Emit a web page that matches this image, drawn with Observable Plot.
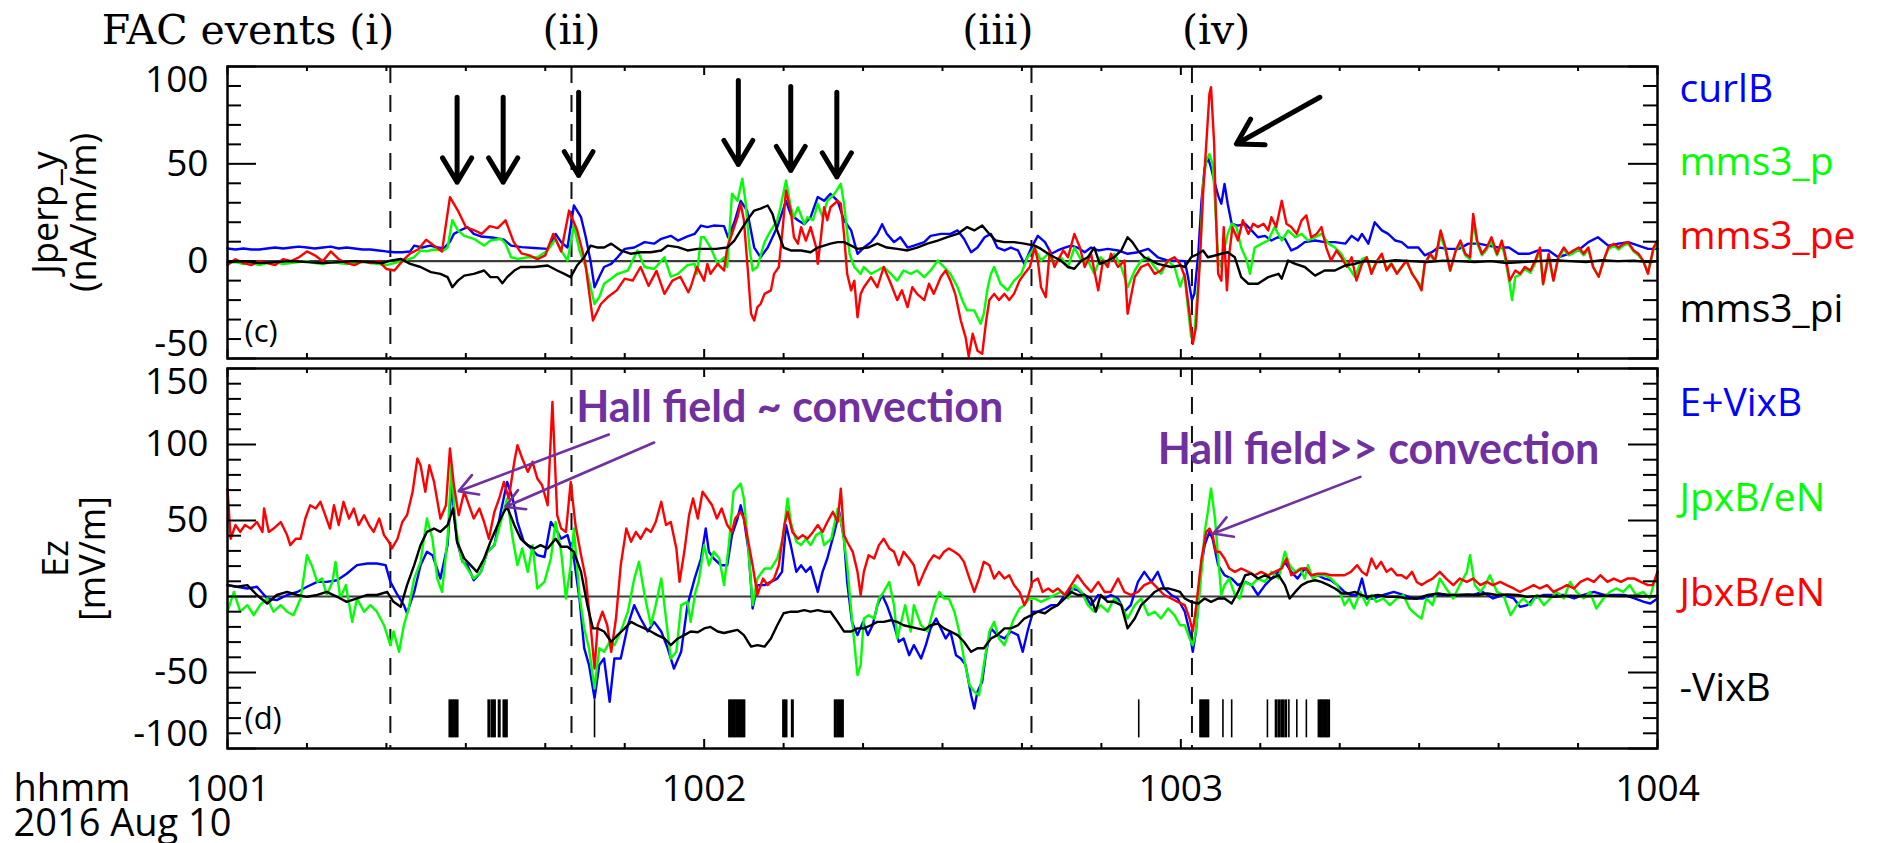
<!DOCTYPE html>
<html><head><meta charset="utf-8">
<script src="https://cdn.jsdelivr.net/npm/d3@7"></script>
<script src="https://cdn.jsdelivr.net/npm/@observablehq/plot@0.6"></script>
<style>
html,body{margin:0;padding:0;background:#fff;overflow:hidden;}
#chart{position:relative;width:1877px;height:843px;background:#fff;}
#chart svg{position:absolute;left:0;max-width:none;}
</style></head><body><div id="chart"></div>
<script>
// time axis: seconds after 10:01:00 UT, 2016 Aug 10
const xTickValues = [0, 60, 120, 180];
const xTickLabels = ["1001", "1002", "1003", "1004"];
const xMinorTicks = [10,20,30,40,50,70,80,90,100,110,130,140,150,160,170];
const eventLines = [20.5, 43.3, 101.2, 121.4];
const eventLabels = ["FAC events (i)", "(ii)", "(iii)", "(iv)"];

// panel (c)
const yTicksTop = [100, 50, 0, -50];
const yMinorTop = [-40,-30,-20,-10,10,20,30,40,60,70,80,90];
const seriesTop = ["curlB", "mms3_p", "mms3_pe", "mms3_pi"];
const colorsTop = ["#0000ff", "#00ff00", "#ff0000", "#000000"];

const curlB = [[0,6.5],[1,6],[2,6.5],[3,6],[4,6],[5,6.5],[6,7],[7,6.5],[8,7],[9,7.5],[10,7],[11,6.5],[12,7],[13,7.5],[14,6.5],[15,7],[16,6.5],[17,6],[18,6],[19,5.5],[20,5],[21,4.6],[22,4.6],[23,5],[23.5,8],[24.5,7],[25.5,8],[26.5,7],[27.2,6.5],[28,10],[28.5,14],[29.4,16],[30.2,17.5],[31,14],[31.9,12.7],[33.6,12],[34.8,11],[35.7,8],[37,7.2],[38.6,6.8],[40.3,6.3],[41.3,14],[42,9.8],[42.8,7],[43.6,28.6],[44.5,22.6],[45.1,12.3],[45.7,0],[46.2,-13.4],[46.8,-8],[47.4,-3],[48.3,-1.4],[49.1,2],[50,6.3],[51.2,7],[52.5,9.8],[53.7,9],[54.6,11.5],[55.8,13],[56.7,10.6],[57.9,12.7],[58.8,14],[59.6,18.3],[60.4,17.5],[61.2,18.3],[62.5,18],[63,12.3],[63.8,20],[64.6,31],[65.4,26],[66.3,7],[67.1,2],[68,7],[69.2,17.5],[70.3,31],[70.9,24],[71.8,21],[72.6,19],[73.4,22.6],[74.3,33],[75.1,31],[75.9,34.6],[76.8,31],[77.6,21],[78.5,15.8],[79.3,3.8],[80.1,7],[81,9.8],[81.8,14],[82.4,19],[83,14],[83.9,9.8],[84.7,12.3],[85.6,7],[86.4,8],[87.7,9.8],[88.5,13],[89.8,14],[91,14],[91.9,15.8],[92.7,11.5],[93.6,4.6],[94.4,7],[95.3,12.3],[96.1,14],[96.9,7],[97.8,5.5],[98.6,7],[99.5,5.5],[100.3,-1.4],[101.2,7],[102,13],[102.9,9.8],[103.7,3.8],[104.5,5.5],[105.4,7],[106.2,8],[107,7],[107.9,4.6],[108.7,7],[109.6,5.5],[110.8,6.3],[112.1,5.5],[113.3,3.8],[114.6,4.6],[115.9,6.3],[117.1,2],[118.4,0.3],[119.7,0.3],[120.5,0],[120.9,-8],[121.4,-20],[121.7,-16.8],[122.2,3.8],[122.6,31],[123,48],[123.4,53.4],[123.8,48],[124.3,39.7],[124.7,33.7],[125.1,29.5],[125.5,39.7],[125.9,29.5],[126.4,19.2],[127.2,18.3],[128.1,19.2],[128.9,15.8],[129.7,12.3],[130.6,13],[131.4,10.6],[132.2,12.3],[133.1,11.5],[133.9,5.5],[134.7,7],[135.6,9.8],[136.9,10.6],[138.1,9.8],[139.4,9.8],[140.7,9],[141.5,13],[142.3,10.6],[142.8,14],[143.6,9],[144.4,20],[145.3,15.8],[146.1,14],[147,10.6],[147.8,9.8],[148.6,7],[149.9,7],[150.7,3],[151.6,4.6],[152.4,7],[153.7,6.3],[155,6.3],[156.2,9],[157.5,9],[158.7,8],[160,7],[161.3,7],[162.5,3.8],[163.8,3.8],[165,5.5],[166.3,5.5],[167.5,2],[168.8,3.8],[170,5.5],[171.3,9.8],[172.5,12.3],[173.8,8],[175.1,9],[176.3,9.8],[177.6,8],[178.8,6.3],[180,6.3]];

const mms3_p = [[0,-1],[1,-0.5],[2,-1.5],[3,-1],[4,-2],[5,-1],[6,-0.5],[7,-1.5],[8,-1],[9,-0.5],[10,0],[11,-1],[12,-1.5],[13,-0.5],[14,-1],[15,-1.5],[16,-1],[17,-0.5],[18,-1],[19,-1.5],[20,-2],[21,-1],[22,0],[23.5,2],[24.3,5.5],[25,5],[26,6],[27.2,5.5],[27.7,7],[28.3,21],[29,15.8],[29.8,13],[31,11.5],[32.3,8],[33.1,10.6],[34.4,11.5],[35,9],[35.7,2],[36.5,1.2],[37.8,2],[39,2],[40.3,5.5],[41.3,11.5],[42,5.5],[42.8,0.3],[43.6,18.3],[44.3,5.5],[45.1,-3],[45.7,-13.4],[46.2,-22],[46.8,-18.5],[47.4,-11.6],[48.3,-9],[49.1,-6.5],[50.4,-4.8],[51.6,5.5],[52.5,-3],[53.7,-4],[55,2],[55.8,-8],[56.7,-6.5],[57.9,-2],[58.8,-1.4],[59.1,-6.5],[59.6,12.3],[60,12.3],[60.8,7],[61.7,-1.4],[62.5,2],[62.9,-3],[63.5,34.6],[64.2,31],[64.8,42.3],[65.2,31],[65.7,7],[66.1,-4.8],[66.7,-3],[67.6,9.8],[68.4,15.8],[69.2,21],[69.6,27.7],[70.3,41.4],[70.9,27.7],[71.3,22.6],[71.8,27.7],[72.6,19.2],[73,22.6],[73.7,21],[74.3,29.5],[74.9,22.6],[75.5,31],[76.4,34.6],[77.2,39.7],[77.6,29.5],[78.3,3.8],[78.9,-3],[79.7,-6.5],[80.1,-3],[81,-6.5],[81.8,-4.8],[82.6,-3],[83.5,-6.5],[84.3,-10],[85.1,-4.8],[86,-6.5],[86.8,-4.8],[87.7,-8.2],[88.5,-4.8],[89.4,0.3],[90.2,-3],[91,-6.5],[91.9,-13.4],[92.5,-20.2],[93.1,-25.3],[94,-25.3],[94.8,-32.2],[95.2,-27],[95.7,-13.4],[96.1,-6.5],[96.5,-3],[97.3,-11.6],[98.2,-15],[99,-10],[99.9,-6.5],[100.7,2],[101.6,7],[102.4,0.3],[103.3,3.8],[104.1,-1.4],[104.9,2],[105.8,-3],[106.6,7],[107.5,0.3],[108.3,0.3],[109.1,-6.5],[109.9,2],[110.8,-1.4],[111.6,3.8],[112.5,-3],[113.3,-13.4],[114.2,-4.8],[115,0.3],[115.9,2],[116.7,-3],[117.5,-6.5],[118.4,0.3],[119.2,-3],[119.9,-13],[120.5,-6.5],[120.7,-16.8],[121.3,-39],[121.7,-37],[122.4,0.3],[122.8,39.7],[123.2,51.7],[123.6,55],[124,50],[124.3,31],[124.7,0.3],[125.1,-3],[125.5,7],[125.9,14],[126.4,19.2],[127,17.5],[127.6,7],[128.3,0.3],[128.7,-6.5],[129.3,7],[130.2,9],[131,10.6],[131.8,17.5],[132.7,10.6],[133.5,15.8],[134.4,12.3],[135.2,14],[136,10.6],[136.9,12.3],[137.7,14],[138.6,9],[139.4,7],[140.2,3.8],[141.1,-3],[141.9,-8],[142.8,1],[143.4,2],[144,-5],[144.7,0],[145.3,3],[145.9,-4],[146.5,-1],[147.2,-6],[147.8,-3],[148.4,0],[149.1,-6],[149.7,-10],[150.3,-13],[150.7,-1],[151.4,3],[152,0],[152.7,13],[153.3,6],[153.9,-5],[154.6,5],[155.2,9],[155.8,3],[156.4,1],[156.8,20],[157.3,9],[157.9,3],[158.5,6],[159.1,10],[159.8,3],[160.4,9],[160.8,2],[161.4,-12],[161.7,-20],[162.1,-8],[162.7,-7],[163.3,-4],[164,-6],[164.6,-1],[165.2,5],[165.6,-12],[166.3,2],[166.9,-10],[167.5,1],[168.2,6],[168.8,3],[169.4,4],[170.1,6],[170.7,3],[171.3,6],[171.9,-3],[172.6,-8],[173.2,0],[173.8,6],[174.5,8],[175.1,6],[175.7,8],[176.3,9],[177,5],[177.6,3],[178.2,0],[178.8,-6],[179.5,6],[180,9]];

const mms3_pe = [[0,-2],[1,1],[2,-1],[3,-2],[4,0],[5,-1],[6,-2],[7,1],[8,0],[9,2],[10,5],[11,3],[12,0],[13,5],[14,1],[15,-1],[16,-2],[17,0],[18,-1],[19,0],[20,-4],[21,-4.8],[22,0],[23,4],[24,6],[25,11],[26,8],[27,5],[28,32.9],[29,26],[30,17.5],[31,16],[32,14],[33,18],[34,17],[35,21],[36,10],[37,4],[38,3],[39,1],[40,3],[41,14],[42,5],[43,26],[44,16],[45,0],[46,-30.5],[47,-22],[48,-18],[49,-15],[50,-9],[51,-10],[52,-3],[53,-12.7],[54,-5],[55,-16.8],[56,-10],[57,-8],[58,-16],[58.3,-13.4],[59.1,-3],[60,-10],[60.4,-1.4],[60.8,-6.5],[61.7,-1.4],[62.5,-4.8],[62.9,7],[63.5,14],[64.2,22.6],[64.6,29.5],[65,21],[65.5,-4.8],[65.9,-27],[66.3,-30.5],[66.7,-23.6],[67.1,-22],[67.6,-16.8],[68.4,-15],[68.8,-6.5],[69.4,-3],[69.9,17.5],[70.3,36.3],[70.9,26],[71.3,12.3],[71.8,9],[72.2,17.5],[72.8,10.6],[73.4,17.5],[74.1,7],[74.3,-1.4],[74.7,12.3],[75.1,27.7],[75.5,21],[75.9,27.7],[76.8,31],[77.2,29.5],[77.6,14],[78,-6.5],[78.5,-15],[78.9,-10],[79.3,-28.8],[79.7,-16.8],[80.1,-13.4],[81,-8.2],[81.8,-13.4],[82.6,-3],[83.5,-11.6],[84.3,-20],[84.9,-15],[85.6,-23.6],[86.2,-13.4],[86.8,-16.8],[87.7,-20],[88.3,-11.6],[88.9,-16.8],[89.8,-8],[90.4,-4.8],[91,-10],[91.6,-16.8],[92.3,-30.5],[92.9,-39],[93.3,-49],[93.8,-37.3],[94.4,-46],[95,-47.6],[95.5,-30.5],[95.9,-20],[96.5,-16.8],[97.1,-20],[97.8,-16.8],[98.4,-20],[99,-16.8],[99.7,-10],[100.3,-6.5],[101,-3],[101.6,7],[102,0.3],[102.4,-13.4],[103,-18.5],[103.5,5.5],[104.1,-3],[104.5,0.3],[105.2,5.5],[105.8,2],[106.6,14],[107.3,7],[107.9,-3],[108.7,3.8],[109.6,-15],[110.2,0.3],[110.8,-3],[111.2,3.8],[112.1,-3],[112.9,0.3],[113.3,-27],[114.2,-8.2],[115,-3],[115.9,-1.4],[116.7,-6.5],[117.5,-4.8],[118.4,0.3],[119.2,2],[119.9,-1.4],[120.5,-8],[121.1,-27],[121.5,-42.5],[121.9,-34],[122.4,0.3],[122.8,34.6],[123.2,60],[123.6,86],[123.8,89.4],[124.2,60],[124.4,26],[124.7,-6.5],[125.1,-10],[125.4,17.5],[125.8,-15],[126.1,3.8],[126.5,17.5],[127.2,10.6],[127.8,21],[128.5,14],[129.1,19.2],[129.7,17.5],[130.4,19.2],[131,15.8],[131.4,22.6],[132,17.5],[132.7,31],[133.3,19.2],[133.9,17.5],[134.6,14],[135.2,21],[135.8,23.5],[136.4,12.3],[137.1,14],[137.7,17.5],[138.3,7],[138.9,0.3],[139.6,5.5],[140.2,2],[140.9,-3],[141.5,2],[142.1,-10],[142.8,-1.4],[143.4,2],[144,-6.5],[144.7,0.3],[145.3,3.8],[145.9,-4.8],[146.5,-1.4],[147.2,-6.5],[147.8,-3],[148.4,0.3],[149.1,-6.5],[149.7,-10],[150.3,-15],[150.7,-1.4],[151.4,3.8],[152,0.3],[152.7,15.8],[153.3,7],[153.9,-4.8],[154.6,5.5],[155.2,10.6],[155.8,3.8],[156.4,2],[156.8,24.3],[157.3,10.6],[157.9,3.8],[158.5,7],[159.1,12.3],[159.8,3.8],[160.4,10.6],[160.8,3.8],[161.4,-10],[162.1,-4.8],[162.7,-6.5],[163.3,-3],[164,-4.8],[164.6,0.3],[165.2,7],[165.6,-11.6],[166.3,3.8],[166.9,-10],[167.5,2],[168.2,7],[168.8,3.8],[169.4,5.5],[170.1,7],[170.7,3.8],[171.3,7],[171.9,-3],[172.6,-8],[173.2,0.3],[173.8,7],[174.5,8.9],[175.1,7],[175.7,8.9],[176.3,9.8],[177,5.5],[177.6,3.8],[178.2,0.3],[178.8,-6.5],[179.5,7],[180,10.6]];

const mms3_pi = [[0,-0.5],[2,0],[4,-1],[6,-0.5],[8,0],[10,-0.5],[12,-1],[14,-0.5],[16,0],[18,-0.5],[19.5,-1],[20.5,0.3],[21.8,1.2],[23,-1.4],[24.3,-3],[25.6,-5.6],[26.8,-6.5],[27.7,-8.2],[28.3,-13.4],[29,-10],[29.8,-7.4],[31,-6.5],[32.3,-4.8],[33.1,-8.2],[34,-8.2],[34.6,-11.3],[35.2,-8.2],[36.1,-4.8],[36.9,-3],[38.6,-3],[40.3,-2.2],[41.5,-4.8],[42.4,-6.5],[43.2,-8.2],[44,-2.2],[44.9,2],[45.7,8],[46.6,7],[47.4,7],[48.3,9],[49.5,5.5],[50.8,3.8],[52,4.6],[53.3,4.6],[54.6,5.5],[55.4,8],[56.7,7.2],[57.9,5.5],[59.2,6.3],[60.4,6.3],[61.5,6.3],[62.9,7],[63.8,10.6],[64.6,15.8],[65.4,21],[66.3,26],[67.1,27],[68,28.6],[68.6,24.3],[69.2,15.8],[70,7],[70.9,5.5],[72.2,5.5],[73.4,4.6],[74.3,7],[75.1,8],[75.9,9],[76.8,9.8],[77.6,9.8],[78.5,8],[79.3,6.3],[80.6,7],[81.8,9],[83,7],[84.3,6.3],[85.6,5.5],[86.8,7],[88.1,9],[89.4,10.6],[90.6,12.3],[91.9,14],[93.1,17.5],[94,15.8],[95,18.3],[95.9,14],[96.7,10.6],[97.8,9.8],[99,9.8],[100.3,9],[101.6,8],[102.4,6.3],[103.3,3.8],[104.1,2],[104.9,0.3],[105.8,-3],[106.6,-3.9],[107.5,0.3],[108.3,2],[109.1,7],[109.8,-1.4],[110.8,0.3],[111.6,2],[112.5,5.5],[113.3,12.3],[113.9,9.8],[114.6,5.5],[115.4,2],[116.3,0.3],[117.1,-1.4],[117.9,-2.2],[118.8,-3],[119.9,-2.2],[120.5,-3],[121.3,2],[122.2,3.8],[122.8,5.5],[123.4,2],[124.3,2.9],[125.1,3.8],[125.9,4.6],[126.8,2],[127.6,-8.2],[128.5,-11.6],[129.7,-11.6],[131,-8.2],[132.3,-6.5],[132.7,-9],[133.5,0.3],[134.4,-1.4],[135.6,-3],[136.9,-7.4],[138.1,-4.8],[139.4,-4.8],[140.7,-2.2],[141.9,-1.4],[143,0],[145,-0.5],[147,0.5],[149,0],[151,-0.5],[153,0.3],[155,0],[157,-0.5],[159,0],[161,-1],[163,-0.5],[165,0],[167,0.5],[169,0],[171,-0.5],[173,0.5],[175,0],[177,0.3],[179,-0.5],[180,0]];

// panel (d)
const yTicksBottom = [150, 100, 50, 0, -50, -100];
const yMinorBottom = [-90,-80,-70,-60,-40,-30,-20,-10,10,20,30,40,60,70,80,90,110,120,130,140];
const seriesBottom = ["E+VixB", "JpxB/eN", "JbxB/eN", "-VixB"];
const colorsBottom = ["#0000ff", "#00ff00", "#ff0000", "#000000"];

const EplusVixB = [[0,7.5],[1.2,6.4],[2.5,5.3],[3.7,6.4],[5,-1.3],[6.2,-2.4],[7.5,1],[8.8,3],[10,6.4],[11.3,9.6],[12.5,9.6],[13.8,10.7],[15,15],[16.3,20.6],[17.6,21.7],[18.8,21.7],[19.9,20.6],[20.5,9.6],[21.4,1],[22.2,-5.7],[22.6,-11],[23.5,3],[24.3,20.6],[25.1,29.4],[25.8,27.2],[26.8,11.8],[27.7,33.8],[28.2,73],[28.9,36],[29.6,22.8],[30.2,20.6],[31,10.7],[31.9,16.2],[32.7,29.4],[33.6,33.8],[34.4,55.7],[35.2,75.4],[35.9,64.5],[36.5,49],[37.3,36],[38.2,31.6],[39,27.2],[39.9,26],[40.7,49],[41.3,44.7],[42,38],[42.8,40.4],[43.6,25],[44.3,-1.3],[44.9,-34],[45.5,-45],[46.2,-67],[46.8,-45],[47.4,-40.8],[48.1,-69.3],[48.7,-40.8],[49.5,-40.8],[50.4,-18.9],[51.2,-5.7],[52,-14.5],[52.9,-23],[53.7,-16.7],[54.6,-23],[55.4,-34],[56.2,-47.4],[57.1,-36.4],[57.9,-5.7],[58.8,11.8],[59.6,25],[60.2,44.7],[60.6,29.4],[61.2,25],[62.1,20.6],[62.9,20.6],[63.5,40.4],[64.2,51.3],[64.6,60],[65,51.3],[65.6,29.4],[66.1,-7.9],[66.7,7.5],[67.6,7.5],[68.4,9.6],[69.2,11.8],[69.8,16.2],[70.3,47],[70.9,33.8],[71.6,16.2],[72.2,20.6],[72.8,16.2],[73.4,19.5],[74.3,3],[74.9,16.2],[75.5,25],[76.4,42.5],[77,55.7],[77.6,38],[78,9.6],[78.6,-16.7],[79.3,-25.4],[80,-16.7],[80.6,-25.4],[81.2,-18.9],[81.8,-5.7],[82.4,1],[83,-5.7],[83.9,-18.9],[84.5,-29.8],[85.1,-27.6],[85.8,-38.6],[86.4,-32],[87.3,-40.8],[87.9,-32],[88.5,-21],[89.2,-14.5],[89.8,-21],[90.4,-27.6],[91,-23],[91.7,-38.6],[92.3,-40.8],[92.9,-45],[93.6,-65],[94,-73.7],[94.4,-62.7],[95,-56],[95.5,-36.4],[96.1,-21],[96.9,-25.4],[97.8,-27.6],[98.6,-23],[99.5,-25.4],[100.1,-36.4],[100.7,-23],[101.4,-10],[102,-10],[102.9,-7.9],[103.7,-5.7],[104.5,-5.7],[105.4,1],[106.2,5.3],[107,4.2],[107.9,1],[108.7,-5.7],[109.6,1],[110.4,-1.3],[111.2,1],[112.1,-1.3],[112.9,-10],[113.7,-5.7],[114.6,9.6],[115.4,16.2],[116.3,9.6],[117.1,16.2],[117.9,5.3],[118.8,1],[119.6,-1.3],[120.5,-10],[121.1,-23],[121.5,-36.4],[121.9,-23],[122.6,20.6],[123,33.8],[123.6,42.5],[124,38],[124.7,20.6],[125.5,14],[126.4,11.8],[127.2,7.5],[128.1,9.6],[128.9,7.5],[129.7,1],[130.6,7.5],[131.4,11.8],[132.3,16.2],[133.1,22.8],[133.9,16.2],[134.7,11.8],[135.6,18.4],[136.4,14],[137.2,14],[138.1,11.8],[138.9,10.7],[139.7,7.5],[140.6,3],[141.4,1],[142.2,1],[142.8,11.8],[143.4,-1.3],[144.3,-1.3],[145.5,1],[146.8,3],[148,1],[149.3,-1.3],[150.5,-1.3],[151.7,1],[153,1],[154.3,1],[155.5,1],[156.8,1],[158,3],[159.3,-1.3],[160.6,1],[161.9,-1.3],[162.7,-6.8],[163.6,-5.7],[164.4,-1.3],[165.7,1],[166.9,1],[168.2,1],[169.5,-1.3],[170.7,1],[172,3],[173.3,1],[174.5,1],[175.8,1],[177.1,-1.3],[178.3,-3.5],[179.1,-4.6],[180,-1.3]];

const JpxB_eN = [[0,-10],[0.8,3],[1.6,-10],[2.5,-5.7],[3.3,-12.3],[4.1,-5.7],[5,-1.3],[5.8,-10],[6.7,-5.7],[7.5,-10],[8.3,-12.3],[9.2,-1.3],[10,27.2],[10.6,20.6],[11.3,9.6],[11.9,11.8],[12.5,1],[13.2,9.6],[13.6,22.8],[14.2,-1.3],[14.9,7.5],[15.7,-16.7],[16.3,-1.3],[17.2,-10],[18,-5.7],[18.8,-10],[19.7,-18.9],[20.5,-32],[20.9,-23],[21.6,-36.4],[22.2,-18.9],[22.8,-7.9],[23.5,11.8],[24.3,22.8],[25.1,51.3],[25.8,38],[26.4,11.8],[27,3],[27.7,38],[28.2,86.4],[28.7,47],[29.4,25],[30.2,18.4],[31,11.8],[31.9,16.2],[32.7,29.4],[33.6,33.8],[34.4,49],[35.2,64.5],[35.9,38],[36.5,20.6],[37.1,31.6],[37.8,16.2],[38.4,33.8],[39,5.3],[39.9,9.6],[40.7,25],[41.3,49],[42,29.4],[42.6,-1.3],[43.2,20.6],[43.6,44.7],[44.3,1],[44.9,-21],[45.5,-34],[46.2,-60.5],[46.8,-34],[47.4,-36.4],[48.1,-29.8],[48.7,-32],[49.5,-23],[50.4,-10],[51.2,11.8],[51.8,22.8],[52.5,1],[53.3,-18.9],[53.9,-5.7],[54.6,11.8],[55.2,-14.5],[55.8,-40.8],[56.5,-36.4],[57.1,-5.7],[57.9,-3.5],[58.3,-16.7],[58.9,3],[59.3,9.6],[60,33.8],[60.6,20.6],[61.2,29.4],[61.9,25],[62.5,7.5],[63.1,33.8],[63.7,68.9],[64.6,74.3],[65,64.5],[65.6,29.4],[66.1,-5.7],[66.7,11.8],[67.6,18.4],[68.4,18.4],[69.2,25],[69.9,38],[70.5,64.5],[70.9,49],[71.6,36],[72.2,33.8],[72.8,38],[73.4,33.8],[74.1,40.4],[74.7,42.5],[75.1,33.8],[76,38],[76.8,57.9],[77.4,44.7],[78,20.6],[78.6,-14.5],[79.3,-51.7],[79.7,-45],[80.1,-14.5],[80.7,-12.3],[81.4,-14.5],[82,-1.3],[82.6,3],[83.3,9.6],[83.9,-5.7],[84.3,-27.6],[84.9,-14.5],[85.3,-5.7],[86,-23],[86.4,-5.7],[87.3,-18.9],[88.1,-23],[89,-5.7],[89.6,3],[90.2,-1.3],[90.8,-1.3],[91.5,-10],[92.1,-23],[92.7,-40.8],[93.4,-58.3],[94,-62.7],[94.6,-65],[95.2,-45],[95.9,-23],[96.5,-16.7],[97.1,-27.6],[97.8,-32],[98.4,-23],[99,-14.5],[99.7,-7.9],[100.3,-5.7],[100.9,-1.3],[101.6,-1.3],[102.4,-3.5],[103.3,-1.3],[104.1,1],[104.9,3],[105.8,-1.3],[106.6,7.5],[107.5,3],[108.3,-5.7],[109.1,-10],[109.9,-5.7],[110.8,-10],[111.6,-1.3],[112.5,-5.7],[113.3,-14.5],[114.2,-5.7],[115,-1.3],[115.9,-12.3],[116.7,-10],[117.5,-14.5],[118.4,-7.9],[119.2,-12.3],[119.9,-18.9],[120.5,-18.9],[121.1,-27.6],[121.5,-32],[121.9,-23],[122.6,16.2],[123,42.5],[123.4,55.7],[123.8,71],[124.3,51.3],[124.7,25],[125.1,1],[125.5,7.5],[126.1,11.8],[126.8,1],[127.4,-1.3],[128,9.6],[128.9,7.5],[129.7,11.8],[130.6,9.6],[131.4,16.2],[132.3,11.8],[133.1,29.4],[133.7,20.6],[134.4,16.2],[135,18.4],[135.6,11.8],[136,20.6],[136.6,11.8],[137.2,14],[138.1,14],[138.9,11.8],[139.7,7.5],[140.6,-5.7],[141.2,-1.3],[141.8,-7.9],[142.6,3],[143.4,-5.7],[144,1],[144.6,-3.5],[145.5,-1.3],[146.3,-5.7],[147.2,-1.3],[148,1],[148.8,-7.9],[149.7,-12.3],[150.3,-14.5],[150.9,-1.3],[151.7,-5.7],[152.6,11.8],[153.4,5.3],[154.3,-1.3],[155.1,7.5],[156,16.2],[156.4,27.2],[157,7.5],[157.7,3],[158.3,7.5],[158.9,14],[159.8,3],[160.6,1],[161.5,-12.3],[162.3,-5.7],[163.1,-1.3],[164,-5.7],[164.8,1],[165.7,-5.7],[166.5,-1.3],[167.3,3],[168.2,-1.3],[169,9.6],[169.8,3],[170.7,-1.3],[171.5,3],[172.3,-7.9],[173.2,-1.3],[174,3],[174.8,5.3],[175.7,3],[176.5,7.5],[177.3,1],[178.2,3],[179,-1.3],[180,16.2]];

const JbxB_eN = [[0,71],[0.4,38],[1,47],[1.6,42.5],[2.2,47],[2.9,44.7],[3.7,49],[4.4,42.5],[4.6,58],[5.2,42.5],[5.8,44.7],[6.7,49],[7.5,40.4],[7.9,33.8],[8.6,38],[9.2,38],[9.8,51.3],[10.4,60],[11.1,57.9],[11.7,62.3],[12.3,53.5],[12.9,44.7],[13.4,60],[14,47],[14.6,62.3],[15.3,51.3],[15.9,57.9],[16.5,47],[17.2,53.5],[17.8,47],[18.4,42.5],[19.1,51.3],[19.7,40.4],[20.3,36],[20.7,31.6],[21.4,38],[22,49],[22.6,53.5],[23.3,68.9],[23.9,90.8],[24.3,86.4],[24.9,68.9],[25.4,86.4],[26,75.4],[26.8,51.3],[27.5,60],[28,97.4],[28.5,73],[29.1,53.5],[29.8,68.9],[30.4,60],[31,51.3],[31.7,57.9],[32.3,49],[32.9,38],[33.6,55.7],[34.2,64.5],[34.8,75.4],[35.4,64.5],[36.1,88.6],[36.5,99.6],[37.1,90.8],[37.8,82],[38.4,88.6],[39,77.6],[39.6,73.2],[40.3,60],[40.9,128],[41.5,53.5],[42,44.7],[42.6,42.5],[43.2,75.4],[43.8,47],[44.5,27.2],[45.1,11.8],[45.7,-18.9],[46.2,-47.4],[46.6,-18.9],[47.2,-10],[47.8,-18.9],[48.3,-36.4],[48.9,-14.5],[49.5,20.6],[50.2,44.7],[50.8,36],[51.4,42.5],[52,38],[52.7,44.7],[53.3,42.5],[53.9,49],[54.6,62.3],[55.2,47],[55.8,49],[56.5,31.6],[56.9,9.6],[57.5,29.4],[58.1,53.5],[58.6,64.5],[59.2,51.3],[59.8,68.9],[60.4,64.5],[61,60],[61.6,51.3],[62.2,57.9],[62.9,47],[63.5,42.5],[63.9,51.3],[64.6,55.7],[65,51.3],[65.4,40.4],[66.1,20.6],[66.7,1],[67.4,11.8],[68,7.5],[68.8,11.8],[69.4,20.6],[70.1,47],[70.5,55.7],[71.1,42.5],[71.8,38],[72.4,40.4],[73,38],[73.7,42.5],[74.3,47],[74.9,42.5],[75.5,49],[76.2,55.7],[76.8,49],[77.2,71],[77.6,40.4],[78,36],[78.7,29.4],[79.3,16.2],[79.7,1],[80.1,16.2],[80.7,27.2],[81.4,25],[82,33.8],[82.6,38],[83.3,31.6],[83.9,29.4],[84.5,20.6],[85.1,29.4],[85.8,25],[86.4,20.6],[87,7.5],[87.7,16.2],[88.3,22.8],[88.9,27.2],[89.6,25],[90.2,29.4],[90.8,31.6],[91.5,29.4],[92.1,27.2],[92.7,22.8],[93.4,11.8],[94,3],[94.6,11.8],[95.2,22.8],[95.9,20.6],[96.5,11.8],[97.1,16.2],[97.8,11.8],[98.4,14],[99,7.5],[99.7,3],[100.3,-5.7],[100.7,-1.3],[101.3,9.6],[102,11.8],[102.6,3],[103.3,5.3],[103.9,3],[104.5,5.3],[105.4,1],[106.2,7.5],[107,14],[107.9,7.5],[108.7,3],[109.6,9.6],[110.4,3],[111.2,3],[112.1,11.8],[112.9,3],[113.7,1],[114.6,3],[115.4,7.5],[116.3,9.6],[117.1,5.3],[117.9,1],[118.8,-1.3],[119.6,-3.5],[120.5,-5.7],[121.1,-14.5],[121.5,-23],[121.9,-7.9],[122.6,25],[123.2,42.5],[123.6,44.7],[124,40.4],[124.4,29.4],[124.9,29.4],[125.5,25],[126.1,18.4],[126.8,16.2],[127.6,18.4],[128.5,16.2],[129.3,14],[130.1,16.2],[131,14],[131.8,16.2],[132.7,18.4],[133.3,25],[133.9,14],[134.6,16.2],[135.2,18.4],[135.8,18.4],[136.4,14],[137.2,15],[138.1,15],[138.9,14],[139.7,14],[140.6,14],[141.4,16.2],[142.2,20.6],[142.8,16.2],[143.4,14],[144,25],[144.6,18.4],[145.2,22.8],[145.9,16.2],[146.5,18.4],[147.2,14],[147.8,14],[148.4,11.8],[149.1,16.2],[149.7,9.6],[150.3,7.5],[150.9,9.6],[151.7,11.8],[152.6,16.2],[153.4,11.8],[154.3,7.5],[155.1,11.8],[156,9.6],[156.8,11.8],[157.7,7.5],[158.5,9.6],[159.3,7.5],[160.2,9.6],[161,7.5],[161.9,5.3],[162.7,3],[163.6,5.3],[164.4,7.5],[165.2,5.3],[166.1,7.5],[166.9,3],[167.8,5.3],[168.6,7.5],[169.5,5.3],[170.3,9.6],[171.2,11.8],[172,9.6],[172.8,14],[173.7,9.6],[174.5,11.8],[175.4,9.6],[176.2,11.8],[177.1,11.8],[177.9,9.6],[178.8,7.5],[179.4,7.5],[180,16.2]];

const minusVixB = [[0,7.5],[1.2,6.4],[2.5,7.5],[3.7,1],[5,-4.6],[6.2,1],[7.5,3],[8.8,1],[10,-0.2],[11.3,1],[12.5,3],[13.8,-0.2],[15,-3.5],[16.3,-1.3],[17.6,1],[18.8,1],[20.1,3],[20.9,-3.5],[21.8,-6.8],[22.6,7.5],[23.5,20.6],[24.3,33.8],[25.1,42.5],[26,44.7],[26.8,42.5],[27.7,47],[28.4,57.9],[28.9,36],[29.8,25],[30.6,20.6],[31.4,16.2],[32.3,25],[33.1,36],[34,47],[34.8,55.7],[35.2,59],[36.1,47],[36.9,38],[37.8,33.8],[38.6,31.6],[39.4,33.8],[40.3,31.6],[41.3,38],[42,32.7],[42.8,32.7],[43.6,29.4],[44.5,16.2],[45.3,-5.7],[46,-21],[46.6,-21],[47.4,-23],[48.3,-29.8],[49.1,-25.4],[50,-21],[50.8,-16.7],[51.6,-18.9],[52.5,-21],[53.3,-23],[54.1,-25.4],[55,-27.6],[55.8,-32],[56.7,-27.6],[57.5,-25.4],[58.3,-23],[59.2,-23.5],[60,-21],[60.8,-20],[61.7,-23],[62.5,-24],[63.3,-23],[64.2,-22],[65,-25.4],[65.9,-33],[66.7,-32],[67.6,-33],[68.4,-27.6],[69.2,-18.9],[70,-11],[70.9,-10],[71.8,-10],[72.6,-9],[73.4,-10],[74.3,-9],[75.1,-10],[75.9,-10],[76.8,-16.7],[77.6,-23],[78.5,-23],[79.3,-21],[80.1,-21],[81,-18.9],[81.8,-16.7],[82.6,-16.7],[83.5,-15.6],[84.3,-16.7],[85.1,-18.9],[86,-20],[86.8,-21],[87.7,-22],[88.5,-18.9],[89.4,-17.8],[90.2,-21],[91,-23],[91.9,-25.4],[92.7,-29.8],[93.6,-36.4],[94.4,-34],[95.2,-34],[96.1,-27.6],[96.9,-25.4],[97.8,-21],[98.6,-21],[99.5,-18.9],[100.3,-14.5],[101.2,-12.3],[102,-10],[102.9,-11],[103.7,-7.9],[104.5,-5.7],[105.4,-1.3],[106.2,3],[107,1],[107.9,1],[108.7,-1.3],[109.3,-10],[109.9,1],[110.8,-3.5],[111.6,-3.5],[112.5,-5.7],[113.3,-21],[114.2,-14.5],[115,-5.7],[115.9,-1.3],[116.7,3],[117.5,5.3],[118.4,5.3],[119.2,4.2],[119.9,3],[120.5,-1.3],[121.3,-3.5],[122.2,-4.6],[123,-1.3],[123.8,-3.5],[124.7,-1.3],[125.5,-1.3],[126.4,-4.6],[127.2,3],[128.1,14],[128.9,15],[129.7,11.8],[130.6,14],[131.4,11.8],[132.3,14],[133.1,7.5],[133.7,-1.3],[134.4,3],[135.2,7.5],[136,9.6],[136.9,10.7],[137.7,9.6],[138.6,7.5],[139.4,5.3],[140.3,2],[141.1,2],[141.9,3],[142.7,1],[143.5,-0.2],[144.8,1],[146,-0.2],[147.3,-0.2],[148.6,-1.3],[149.8,-1.3],[151.1,1],[152.4,2],[153.6,1],[154.9,1],[156.1,1.3],[157.4,1],[158.6,2],[159.8,1],[161.1,1.3],[162.4,1],[163.6,-0.2],[165,0.4],[167,-0.2],[169,0.5],[171,0.2],[173,0.6],[175,0.3],[177,0.5],[179,0.2],[180,0.4]];

// ion-event markers in panel (d) (time, s)
const eventBarsThick = [28.0,28.3,28.6,28.9,32.9,33.3,33.6,34.2,34.8,35.1,63.2,63.5,63.8,64.1,64.4,64.7,65.0,70.0,70.3,71.1,76.5,76.8,77.1,77.4,122.5,122.8,123.1,123.4,132.0,132.4,132.8,133.2,137.4,137.7,138.0,138.3,138.6];
const eventBarsThin = [46.2,114.7,125.3,126.4,130.9,133.6,134.6,135.8];
const eventBarRange = [-68, -93];

// annotations (data coordinates: t, value)
const facArrows = [[28.9,84.2,28.9,40.6],[34.7,84.2,34.7,40.6],[44.2,86.8,44.2,44.0],[64.3,92.8,64.3,49.7],[70.9,89.7,70.9,46.6],[76.7,86.8,76.7,43.2],[137.5,84.2,127.0,60.2]];
const hallTexts = ["Hall field ~ convection", "Hall field>> convection"];
const hallTextPos = [[43.9,114.5],[117.1,87.5]];
const hallArrows = [[48.0,106.6,29.1,69.3],[53.7,101.3,35.0,59.0],[142.6,78.7,124.1,41.4]];

// ---------- layout ----------
const W = 1877, ML = 227, MR = 220;
const PW = W - ML - MR;
const sPerPx = 180 / PW;
const FONT = "Open Sans";
const PURPLE = "#7030a0";

function panelMarks(cfg) {
  const [y0, y1] = cfg.yDomain;
  const ph = cfg.height - cfg.mt - cfg.mb;
  const uPerPx = (y1 - y0) / ph;
  const minorX = 14 * sPerPx, majorX = 29 * sPerPx;
  const m = [];
  m.push(Plot.ruleY([0], {stroke: "#3c3c3c", strokeWidth: 2.2}));
  m.push(Plot.ruleX(eventLines, {stroke: "#111", strokeWidth: 2, strokeDasharray: "17,12"}));
  cfg.series.forEach((s, i) => m.push(Plot.line(s, {x: d => d[0], y: d => d[1], stroke: cfg.colors[i], strokeWidth: 2.4, strokeLinejoin: "round"})));
  // y ticks (inward, both sides)
  m.push(Plot.ruleY(cfg.yMinor, {y: d => d, x1: 0, x2: minorX, stroke: "black", strokeWidth: 2}));
  m.push(Plot.ruleY(cfg.yMinor, {y: d => d, x1: 180 - minorX, x2: 180, stroke: "black", strokeWidth: 2}));
  m.push(Plot.ruleY(cfg.yTicks, {y: d => d, x1: 0, x2: majorX, stroke: "black", strokeWidth: 2}));
  m.push(Plot.ruleY(cfg.yTicks, {y: d => d, x1: 180 - majorX, x2: 180, stroke: "black", strokeWidth: 2}));
  // x ticks (inward, top and bottom)
  m.push(Plot.ruleX(xMinorTicks, {x: d => d, y1: y0, y2: y0 + 5 * uPerPx, stroke: "black", strokeWidth: 2}));
  m.push(Plot.ruleX(xMinorTicks, {x: d => d, y1: y1, y2: y1 - 5 * uPerPx, stroke: "black", strokeWidth: 2}));
  m.push(Plot.ruleX(xTickValues, {x: d => d, y1: y0, y2: y0 + 9 * uPerPx, stroke: "black", strokeWidth: 2}));
  m.push(Plot.ruleX(xTickValues, {x: d => d, y1: y1, y2: y1 - 9 * uPerPx, stroke: "black", strokeWidth: 2}));
  // y tick labels
  const tl = cfg.yTicks;
  m.push(Plot.text(tl.slice(1, -1), {frameAnchor: "left", y: d => d, text: d => String(d), dx: -19, textAnchor: "end", lineAnchor: "middle", fontSize: 37}));
  m.push(Plot.text(tl.slice(0, 1), {frameAnchor: "left", y: d => d, text: d => String(d), dx: -19, dy: 14, textAnchor: "end", lineAnchor: "middle", fontSize: 37}));
  m.push(Plot.text(tl.slice(-1), {frameAnchor: "left", y: d => d, text: d => String(d), dx: -19, dy: -14, textAnchor: "end", lineAnchor: "middle", fontSize: 37}));
  // axis title (rotated, two lines)
  cfg.title.forEach((t, i) => m.push(Plot.text([t], {frameAnchor: "left", text: d => d, rotate: -90, dx: cfg.titleDx[i], textAnchor: "middle", lineAnchor: "bottom", fontSize: 36})));
  // legend on the right
  cfg.names.forEach((n, i) => m.push(Plot.text([n], {frameAnchor: "top-right", text: d => d, dx: 22, dy: cfg.legendStart + cfg.legendStep * i, textAnchor: "start", lineAnchor: "bottom", fill: cfg.colors[i], fontSize: 39})));
  // panel letter
  m.push(Plot.text([cfg.letter], {frameAnchor: "bottom-left", text: d => d, dx: 17, dy: cfg.letterDy, textAnchor: "start", lineAnchor: "bottom", fontSize: 31}));
  return m;
}

// ---------- top panel (c) ----------
const topCfg = {height: 362, mt: 66, mb: 4, yDomain: [-50, 100], yTicks: yTicksTop, yMinor: yMinorTop,
  series: [curlB, mms3_p, mms3_pe, mms3_pi], colors: colorsTop, names: seriesTop,
  title: ["Jperp_y", "(nA/m/m)"], titleDx: [-170, -132], legendStart: 35, legendStep: 73.5, letter: "(c)", letterDy: -17};
const topMarks = panelMarks(topCfg);
const labelAnchors = ["end", "middle", "end", "start"];
const labelDx = [4, 0, 2, -10];
eventLabels.forEach((lab, i) => topMarks.push(Plot.text([eventLines[i]], {x: d => d, frameAnchor: "top", text: () => lab, dy: -23, textAnchor: labelAnchors[i], dx: labelDx[i], lineAnchor: "bottom", fontFamily: "DejaVu Serif", fontSize: 41})));
topMarks.push(Plot.arrow(facArrows, {x1: d => d[0], y1: d => d[1], x2: d => d[2], y2: d => d[3], stroke: "black", strokeWidth: 5, headLength: 8.6, headAngle: 62}));
topMarks.push(Plot.frame({stroke: "black", strokeWidth: 2.5}));

const topPlot = Plot.plot({
  width: W, height: topCfg.height, marginLeft: ML, marginRight: MR, marginTop: topCfg.mt, marginBottom: topCfg.mb,
  x: {domain: [0, 180], axis: null}, y: {domain: topCfg.yDomain, axis: null},
  style: {fontFamily: FONT, fontSize: "37px", background: "transparent", overflow: "visible"},
  marks: topMarks
});

// ---------- bottom panel (d) ----------
const botCfg = {height: 481, mt: 6, mb: 95, yDomain: [-100, 150], yTicks: yTicksBottom, yMinor: yMinorBottom,
  series: [EplusVixB, JpxB_eN, JbxB_eN, minusVixB], colors: colorsBottom, names: seriesBottom,
  title: ["Ez", "[mV/m]"], titleDx: [-160, -123], legendStart: 47, legendStep: 95, letter: "(d)", letterDy: -20};
const botMarks = panelMarks(botCfg);
botMarks.push(Plot.ruleX(eventBarsThick, {x: d => d, y1: eventBarRange[0], y2: eventBarRange[1], stroke: "black", strokeWidth: 3}));
botMarks.push(Plot.ruleX(eventBarsThin, {x: d => d, y1: eventBarRange[0], y2: eventBarRange[1], stroke: "black", strokeWidth: 1.6}));
botMarks.push(Plot.arrow(hallArrows, {x1: d => d[0], y1: d => d[1], x2: d => d[2], y2: d => d[3], stroke: PURPLE, strokeWidth: 2.6, headLength: 12, headAngle: 60}));
botMarks.push(Plot.text(hallTexts, {x: (d, i) => hallTextPos[i][0], y: (d, i) => hallTextPos[i][1], text: d => d, textAnchor: "start", lineAnchor: "bottom", fill: PURPLE, fontFamily: "Lato", fontWeight: "bold", fontSize: 43}));
botMarks.push(Plot.text(xTickValues, {x: d => d, frameAnchor: "bottom", text: (d, i) => xTickLabels[i], dy: 52, textAnchor: "middle", lineAnchor: "bottom", fontSize: 37}));
botMarks.push(Plot.text(["hhmm"], {frameAnchor: "bottom-left", text: d => d, dx: -214, dy: 52, textAnchor: "start", lineAnchor: "bottom", fontSize: 38}));
botMarks.push(Plot.text(["2016 Aug 10"], {frameAnchor: "bottom-left", text: d => d, dx: -214, dy: 87, textAnchor: "start", lineAnchor: "bottom", fontSize: 38}));
botMarks.push(Plot.frame({stroke: "black", strokeWidth: 2.5}));

const botPlot = Plot.plot({
  width: W, height: botCfg.height, marginLeft: ML, marginRight: MR, marginTop: botCfg.mt, marginBottom: botCfg.mb,
  x: {domain: [0, 180], axis: null}, y: {domain: botCfg.yDomain, axis: null},
  style: {fontFamily: FONT, fontSize: "37px", background: "transparent", overflow: "visible"},
  marks: botMarks
});

const chart = document.getElementById("chart");
topPlot.style.top = "0px";
botPlot.style.top = topCfg.height + "px";
chart.appendChild(topPlot);
chart.appendChild(botPlot);
</script></body></html>
